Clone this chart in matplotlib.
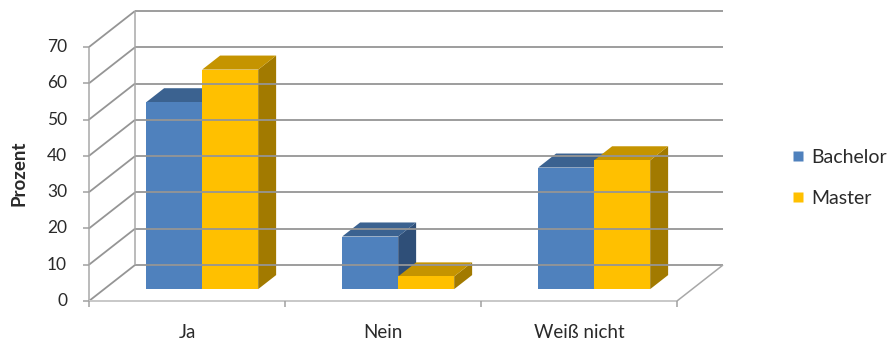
import matplotlib
matplotlib.use('Agg')
import matplotlib.pyplot as plt
from matplotlib.patches import Polygon
from matplotlib.lines import Line2D

# Daten
kategorien = ['Ja', 'Nein', 'Weiß nicht']
bachelor = [51.5, 14.5, 33.5]
master = [60.5, 3.5, 35.5]
serien = ['Bachelor', 'Master']
werte = [bachelor, master]
yticks = [0, 10, 20, 30, 40, 50, 60, 70]

# Farben (Front, Oberseite, Seite)
farben = [('#4f81bd', '#3b6290', '#2f4f78'),
          ('#ffc000', '#c59400', '#a27a00')]
gitter = '#959595'
text_c = '#2a2a2a'

plt.rcParams['font.family'] = ['Lato', 'DejaVu Sans']

W, H = 896, 345
fig = plt.figure(figsize=(W / 100, H / 100), dpi=100)
ax = fig.add_axes([89 / W, (H - 301) / H, 588 / W, 254 / H])
ax.set_xlim(0, 3)
ax.set_ylim(0, 70)
ax.axis('off')

# Tiefe (pseudo-3D)
DX = 46 / 196
DY = 36 / 3.629
d0, d1 = 0.33, 0.72


def p(x, v, d):
    return (x + DX * d, v + DY * d)


def linie(a, b, c=gitter, lw=1.3):
    ax.plot([a[0], b[0]], [a[1], b[1]], color=c, lw=lw, clip_on=False,
            solid_capstyle='butt')


# Rückwand, Seitenwand, Boden
for v in yticks:
    linie(p(0, v, 1), p(3, v, 1))
    linie(p(0, v, 0), p(0, v, 1))
linie(p(0, 0, 0), p(0, 70, 0), '#a8a8a8', 1.1)
linie(p(0, 0, 1), p(0, 70, 1), '#a8a8a8', 1.1)
linie(p(0, 0, 0), p(3, 0, 0), '#c8c8c8', 1.4)
linie(p(3, 0, 0), p(3, 0, 1), '#a8a8a8', 1.1)

# y-Ticks
for v in yticks:
    ax.plot([0], [v], color='#a0a0a0', clip_on=False,
            marker=0, markersize=4, markeredgewidth=1.1)
    ax.annotate(str(v), (0, v), xytext=(-22, 0), textcoords='offset pixels',
                ha='right', va='center', fontsize=12.5, color=text_c)

# x-Ticks
for i in range(4):
    ax.plot([i], [0], marker=3, markersize=4, markeredgewidth=1.1,
            color='#a0a0a0', clip_on=False)
for i, k in enumerate(kategorien):
    ax.annotate(k, (i + 0.5, 0), xytext=(0, -32), textcoords='offset pixels',
                ha='center', va='center', fontsize=13.5, color=text_c)

# Balken
w = 1 / 3.5
for i in range(len(kategorien)):
    for s in range(2):
        v = werte[s][i]
        x0 = i + 0.75 * w + s * w
        x1 = x0 + w
        front, top, side = farben[s]
        ax.add_patch(Polygon([p(x1, 0, d0), p(x1, 0, d1), p(x1, v, d1), p(x1, v, d0)],
                             closed=True, fc=side, ec='none', clip_on=False))
        ax.add_patch(Polygon([p(x0, v, d0), p(x1, v, d0), p(x1, v, d1), p(x0, v, d1)],
                             closed=True, fc=top, ec='none', clip_on=False))
        ax.add_patch(Polygon([p(x0, 0, d0), p(x1, 0, d0), p(x1, v, d0), p(x0, v, d0)],
                             closed=True, fc=front, ec='none', clip_on=False))

fig.text(19 / W, 1 - 173 / H, 'Prozent', rotation=90, ha='center', va='center',
         fontsize=13.5, fontweight='bold', color=text_c)

handles = [Line2D([], [], ls='none', marker='s', markersize=7.5,
                  markerfacecolor=farben[s][0], markeredgecolor='none')
           for s in range(2)]
fig.legend(handles, serien, loc='center left', bbox_to_anchor=(773 / W, 1 - 178 / H),
           frameon=False, fontsize=14, handlelength=0.75, handletextpad=0.3,
           labelspacing=1.25, labelcolor=text_c)

fig.savefig('out.png', dpi=100)
